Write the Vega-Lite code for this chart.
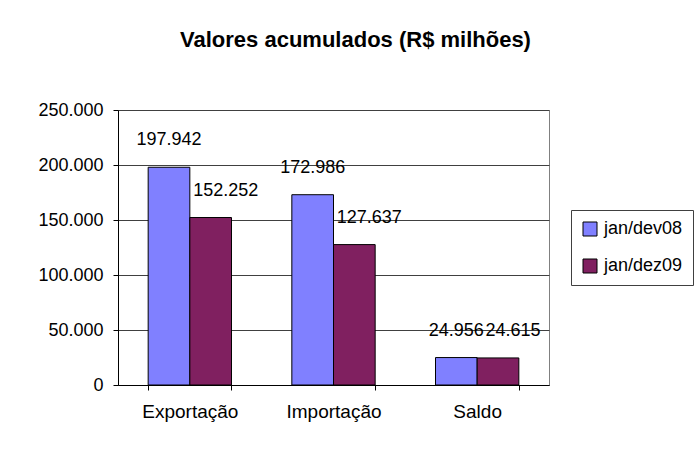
{
  "$schema": "https://vega.github.io/schema/vega-lite/v6.json",
  "width": 431,
  "height": 275,
  "autosize": {"type": "none"},
  "padding": {"left": 118, "top": 110, "right": 150, "bottom": 67},
  "background": "white",
  "title": {
    "text": "Valores acumulados (R$ milhões)",
    "font": "Liberation Sans",
    "fontSize": 22,
    "fontWeight": "bold",
    "color": "black",
    "anchor": "middle",
    "dx": 22,
    "offset": 49
  },
  "data": {
    "values": [
      {"categoria": "Exportação", "periodo": "jan/dev08", "valor": 197942},
      {"categoria": "Exportação", "periodo": "jan/dez09", "valor": 152252},
      {"categoria": "Importação", "periodo": "jan/dev08", "valor": 172986},
      {"categoria": "Importação", "periodo": "jan/dez09", "valor": 127637},
      {"categoria": "Saldo", "periodo": "jan/dev08", "valor": 24956},
      {"categoria": "Saldo", "periodo": "jan/dez09", "valor": 24615}
    ]
  },
  "encoding": {
    "x": {
      "field": "categoria",
      "type": "nominal",
      "sort": ["Exportação", "Importação", "Saldo"],
      "scale": {"paddingInner": 0.42, "paddingOuter": 0.21},
      "axis": {
        "title": null,
        "labelAngle": 0,
        "labelFont": "Liberation Sans",
        "labelFontSize": 19,
        "labelColor": "black",
        "labelPadding": 12,
        "domainColor": "black",
        "tickColor": "black",
        "tickSize": 5,
        "tickBand": "extent",
        "grid": false
      }
    },
    "xOffset": {"field": "periodo", "type": "nominal", "sort": ["jan/dev08", "jan/dez09"]},
    "y": {
      "field": "valor",
      "type": "quantitative",
      "scale": {"domain": [0, 250000], "nice": false},
      "axis": {
        "title": null,
        "values": [0, 50000, 100000, 150000, 200000, 250000],
        "format": ",d",
        "labelFont": "Liberation Sans",
        "labelFontSize": 18,
        "labelColor": "black",
        "labelPadding": 10,
        "domainColor": "black",
        "tickColor": "black",
        "tickSize": 5,
        "grid": true,
        "gridColor": "#404040",
        "gridWidth": 1
      }
    }
  },
  "layer": [
    {
      "mark": {"type": "bar", "stroke": "black", "strokeWidth": 1},
      "encoding": {
        "color": {
          "field": "periodo",
          "type": "nominal",
          "sort": ["jan/dev08", "jan/dez09"],
          "scale": {"domain": ["jan/dev08", "jan/dez09"], "range": ["#8080FF", "#802060"]},
          "legend": {
            "title": null,
            "orient": "none",
            "legendX": 453,
            "legendY": 100,
            "symbolType": "square",
            "symbolSize": 196,
            "symbolStrokeColor": "black",
            "symbolStrokeWidth": 1,
            "labelFont": "Liberation Sans",
            "labelFontSize": 18,
            "labelColor": "black",
            "labelOffset": 5,
            "rowPadding": 19,
            "padding": 10,
            "strokeColor": "#404040",
            "fillColor": "white"
          }
        }
      }
    },
    {
      "transform": [{"filter": "datum.periodo === 'jan/dev08'"}],
      "mark": {"type": "text", "font": "Liberation Sans", "fontSize": 18, "color": "black", "baseline": "middle", "dy": -27},
      "encoding": {"text": {"field": "valor", "type": "quantitative", "format": ",d"}}
    },
    {
      "transform": [{"filter": "datum.periodo === 'jan/dez09'"}],
      "mark": {"type": "text", "font": "Liberation Sans", "fontSize": 18, "color": "black", "baseline": "middle", "dy": -27, "dx": 15},
      "encoding": {"text": {"field": "valor", "type": "quantitative", "format": ",d"}}
    }
  ],
  "config": {
    "locale": {"number": {"decimal": ",", "thousands": ".", "grouping": [3], "currency": ["R$", ""]}},
    "view": {"stroke": "#808080", "strokeWidth": 1}
  }
}
